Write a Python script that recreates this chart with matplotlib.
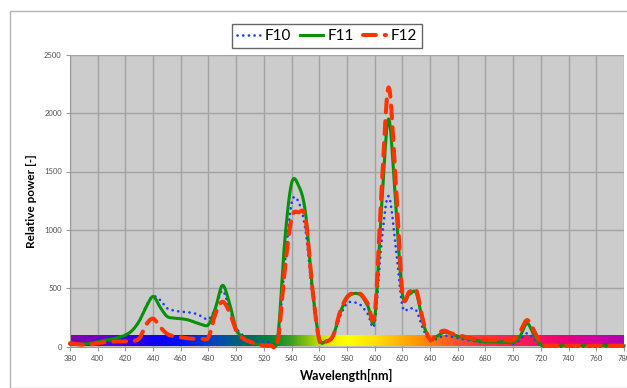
import numpy as np
import matplotlib.pyplot as plt
from matplotlib.colors import LinearSegmentedColormap
from matplotlib.patches import Rectangle

# wavelength grid [nm]
wavelength = np.arange(380, 785, 5)

# relative spectral power of the three fluorescent lamps
f10 = [20, 20, 22, 25, 30, 40, 50, 70, 95, 140,
       215, 350, 430, 400, 330, 310, 300, 295, 285, 260,
       235, 330, 480, 330, 165, 95, 52, 45, 45, 40,
       60, 700, 1230, 1240, 1000, 450, 70, 50, 90, 260,
       370, 380, 355, 280, 200, 900, 1290, 880, 350, 330,
       310, 150, 50, 70, 94, 85, 75, 60, 51, 42,
       37, 42, 50, 40, 26, 60, 115, 70, 5, 0,
       0, 0, 0, 0, 0, 0, 0, 0, 0, 0, 0]
f11 = [25, 22, 22, 30, 42, 55, 65, 80, 100, 140,
       220, 340, 430, 340, 260, 245, 240, 230, 210, 190,
       190, 330, 525, 380, 150, 80, 40, 22, 17, 20,
       80, 900, 1400, 1380, 1150, 500, 70, 50, 95, 290,
       415, 455, 440, 350, 245, 1200, 1950, 1250, 450, 450,
       460, 200, 65, 90, 123, 110, 90, 75, 60, 50,
       45, 42, 40, 38, 37, 90, 200, 100, 15, 8,
       8, 8, 8, 8, 8, 8, 8, 8, 8, 8, 8]
f12 = [30, 22, 16, 20, 30, 38, 43, 45, 45, 50,
       70, 190, 240, 170, 111, 90, 80, 72, 68, 68,
       80, 282, 385, 300, 137, 70, 43, 20, 10, 10,
       40, 650, 1100, 1150, 1100, 500, 55, 45, 95, 300,
       425, 460, 450, 370, 285, 1350, 2220, 1450, 460, 470,
       485, 220, 60, 110, 137, 115, 100, 85, 70, 62,
       57, 55, 55, 55, 57, 130, 228, 140, 22, 9,
       9, 9, 9, 9, 9, 9, 9, 9, 9, 9, 9]

# colour stops of the visible spectrum strip
strip_nm = [380, 400, 420, 440, 460, 480, 500, 510, 520, 530, 540, 550, 560,
            570, 580, 600, 620, 630, 640, 660, 680, 700, 720, 740, 760, 780]
strip_col = ['#8000b0', '#7000c8', '#4000e0', '#1000f0', '#0010ff', '#0040c8',
             '#006080', '#006a60', '#008040', '#109030', '#40a020', '#80c010',
             '#c0e000', '#f0f000', '#ffff00', '#ffe000', '#ffb000', '#ff9800',
             '#ff8000', '#ff5030', '#ff3040', '#ff2050', '#f81060', '#e80080',
             '#d0009c', '#b000b0']


def smooth(x, y, n=12):
    # bezier smoothing through every point, like a spreadsheet "smoothed line"
    x = np.asarray(x, float)
    y = np.asarray(y, float)
    px = np.concatenate([[x[0]], x, [x[-1]]])
    py = np.concatenate([[y[0]], y, [y[-1]]])
    t = np.linspace(0, 1, n, endpoint=False)[:, None]
    xs, ys = [], []
    for i in range(1, len(px) - 2):
        p0, p1, p2, p3 = [np.array([px[j], py[j]]) for j in (i - 1, i, i + 1, i + 2)]
        c1 = p1 + (p2 - p0) / 6
        c2 = p2 - (p3 - p1) / 6
        b = ((1 - t) ** 3) * p1 + 3 * ((1 - t) ** 2) * t * c1 + 3 * (1 - t) * t ** 2 * c2 + t ** 3 * p2
        xs.append(b[:, 0])
        ys.append(b[:, 1])
    xs.append([x[-1]])
    ys.append([y[-1]])
    return np.concatenate(xs), np.concatenate(ys)


plt.rcParams['font.family'] = ['Lato', 'DejaVu Sans']

fig = plt.figure(figsize=(6.27, 3.88), dpi=100)
W, H = 627, 388

# chart frame
fig.patches.append(Rectangle((10 / W, 0), 1, 1 - 11 / H, transform=fig.transFigure,
                             fill=False, edgecolor='#b4b4b4', linewidth=1))

ax = fig.add_axes([70 / W, 1 - 346.7 / H, 554 / W, 292 / H])
ax.set_facecolor('#cccccc')
ax.set_xlim(380, 780)
ax.set_ylim(0, 2500)
ax.set_xticks(np.arange(380, 781, 20))
ax.set_yticks(np.arange(0, 2501, 500))
ax.grid(True, color='#a3a3a3', linewidth=1)
ax.set_axisbelow(True)
for side in ['top', 'right']:
    ax.spines[side].set_visible(False)
for side in ['left', 'bottom']:
    ax.spines[side].set_color('#9a9a9a')
ax.tick_params(axis='both', labelsize=5.5, labelcolor='#505050', color='#9a9a9a',
               length=3, width=0.8, pad=3)

# spectrum strip
cmap = LinearSegmentedColormap.from_list(
    'spec', [((w - 380) / 400, c) for w, c in zip(strip_nm, strip_col)])
ax.imshow(np.linspace(0, 1, 800)[None, :], cmap=cmap, aspect='auto',
          extent=[380, 780, 10, 100], zorder=1.5)

x, y = smooth(wavelength, f10)
ax.plot(x, y, color='#1a3cff', linewidth=1.9, dashes=(0.05, 2.1),
        dash_capstyle='round', label='F10', zorder=3, clip_on=False)
x, y = smooth(wavelength, f11)
ax.plot(x, y, color='#079107', linewidth=2.2, label='F11', zorder=4, clip_on=False)
x, y = smooth(wavelength, f12)
ax.plot(x, y, color='#ff3300', linewidth=2.9, dashes=(3.2, 2.2),
        dash_capstyle='round', label='F12', zorder=5, clip_on=False)

ax.set_xlabel('Wavelength[nm]', fontsize=9, fontweight='bold', labelpad=5)
ax.set_ylabel('Relative power [-]', fontsize=8.5, fontweight='bold', labelpad=5)

leg = fig.legend(loc='center', bbox_to_anchor=(327 / W, 1 - 36 / H), ncol=3,
                 fontsize=11, frameon=True, fancybox=False, handlelength=1.5,
                 handletextpad=0.3, columnspacing=0.6, borderpad=0.35)
leg.get_frame().set_edgecolor('#404040')
leg.get_frame().set_linewidth(1)

fig.savefig('out.png', dpi=100)
